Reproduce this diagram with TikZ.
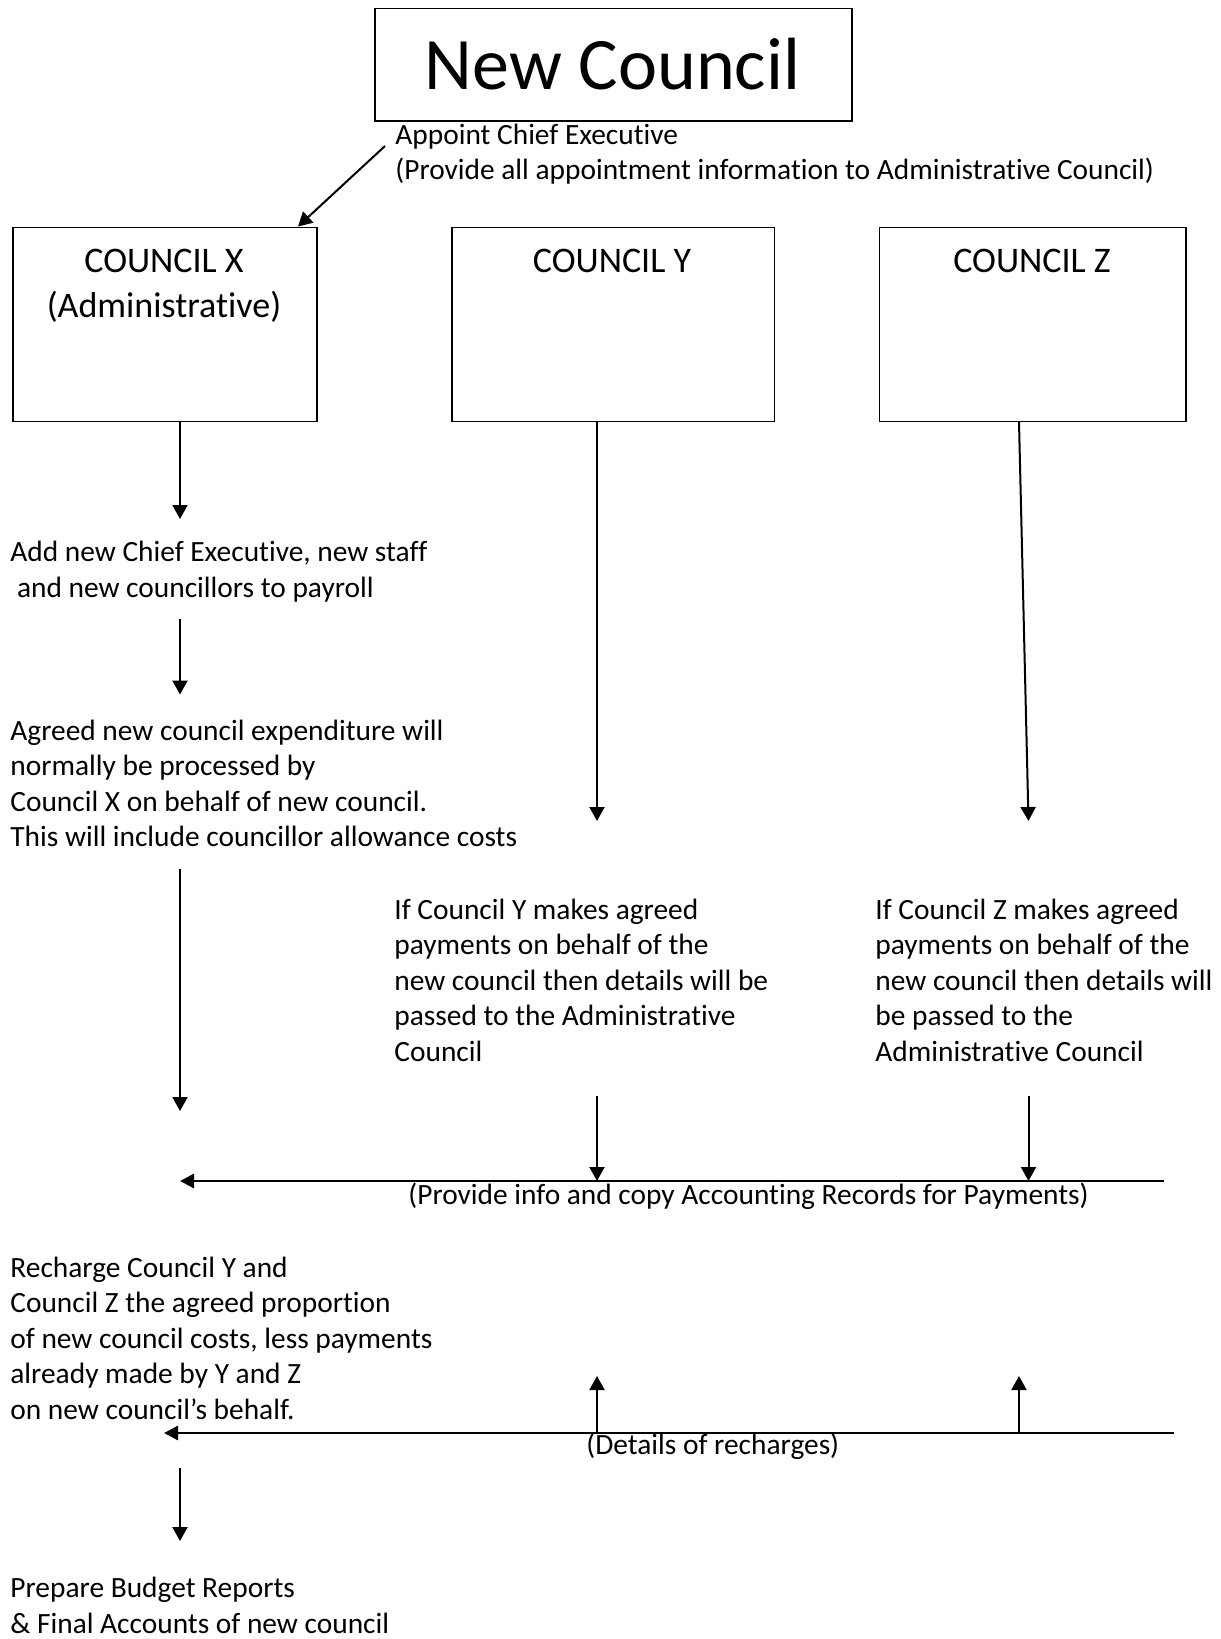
\documentclass[tikz,border=0pt]{standalone}
\usepackage{fontspec}
\setmainfont{Carlito}[Ligatures=NoCommon]
\usetikzlibrary{arrows.meta,calc}
\newcommand\textlines[1]{\begin{tabular}[t]{@{}l@{}}#1\end{tabular}}
\newcommand\centredlines[1]{\begin{tabular}[t]{@{}c@{}}#1\end{tabular}}

\begin{document}
\begin{tikzpicture}[x=0.5pt,y=-0.5pt,
  box/.style={draw, line width=0.8pt, inner sep=0pt, anchor=north west},
  body/.style={anchor=base west, inner sep=0pt, font=\fontsize{14.7}{17.8}\selectfont},
  boxlabel/.style={anchor=base, inner sep=0pt, font=\fontsize{18}{22.5}\selectfont},
  flow/.style={line width=1pt, -{Triangle[length=7pt,width=7.5pt]}},
  heavy/.style={line width=1.45pt, -{Triangle[length=7pt,width=7pt]}}]

  % page
  \fill[white] (0,0) rectangle (1221,1639);
  \useasboundingbox (0,0) rectangle (1221,1639);

  % top box
  \node[box, minimum width=238.5pt, minimum height=56.25pt] (new) at (374,7.5) {};
  \node[anchor=base, inner sep=0pt, font=\fontsize{37}{44}\selectfont] (newt) at (612.5,89.3) {New Council};

  \node[body] (appoint) at (395,144) {\textlines{Appoint Chief Executive\\(Provide all appointment information to Administrative Council)}};

  % the three councils
  \node[box, minimum width=152pt, minimum height=97pt] (cx) at (12,226.5) {};
  \node[box, minimum width=161.25pt, minimum height=97pt] (cy) at (451,226.5) {};
  \node[box, minimum width=153.25pt, minimum height=97pt] (cz) at (878.5,226.5) {};
  \node[boxlabel] (cxt) at (164,272.7) {\centredlines{COUNCIL X\\(Administrative)}};
  \node[boxlabel] (cyt) at (612,272.7) {COUNCIL Y};
  \node[boxlabel] (czt) at (1032,272.7) {COUNCIL Z};

  % column of Council X
  \node[body] (payroll) at (10,561.5) {\textlines{Add new Chief Executive, new staff\\\ and new councillors to payroll}};
  \node[body] (expend) at (10,740) {\textlines{Agreed new council expenditure will\\normally be processed by\\Council X on behalf of new council.\\This will include councillor allowance costs}};
  \node[body] (recharge) at (10,1277) {\textlines{Recharge Council Y and\\Council Z the agreed proportion\\of new council costs, less payments\\already made by Y and Z\\on new council’s behalf.}};
  \node[body] (budget) at (10,1597.7) {\textlines{Prepare Budget Reports\\\& Final Accounts of new council}};

  % columns of Councils Y and Z
  \node[body] (ypay) at (394,919) {\textlines{If Council Y makes agreed\\payments on behalf of the\\new council then details will be\\passed to the Administrative\\Council}};
  \node[body] (zpay) at (875,919) {\textlines{If Council Z makes agreed\\payments on behalf of the\\new council then details will\\be passed to the\\Administrative Council}};

  \node[body] (infolabel) at (408,1204) {(Provide info and copy Accounting Records for Payments)};
  \node[body] (rechlabel) at (586,1454) {(Details of recharges)};

  % connector end points
  \coordinate (colX) at (180,0);
  \coordinate (colY) at (597,0);
  \coordinate (colZ) at (1019,0);
  \coordinate (apStart) at (385,146);
  \coordinate (apEnd) at (298,226.5);
  \coordinate (x1) at (180,519);
  \coordinate (x2a) at (180,619);
  \coordinate (x2b) at (180,694.5);
  \coordinate (x3a) at (180,869);
  \coordinate (x3b) at (180,1111);
  \coordinate (x4a) at (180,1468);
  \coordinate (x4b) at (180,1541);
  \coordinate (y1) at (597,821);
  \coordinate (z1) at (1028.5,821);
  \coordinate (y2a) at (597,1095.5);
  \coordinate (z2a) at (1028.5,1095.5);
  \coordinate (infoR) at (1164,1181);
  \coordinate (infoL) at (180,1181);
  \coordinate (rechR) at (1174,1433);
  \coordinate (rechL) at (164,1433);
  \coordinate (yUp) at (597,1376);
  \coordinate (zUp) at (1019,1376);

  % connectors
  \draw[flow] (apStart) -- (apEnd);
  \draw[flow] (cx.south -| colX) -- (x1);
  \draw[flow] (x2a) -- (x2b);
  \draw[flow] (x3a) -- (x3b);
  \draw[flow] (cy.south -| colY) -- (y1);
  \draw[flow] (cz.south -| colZ) -- (z1);
  \draw[flow] (y2a) -- (y2a |- infoR);
  \draw[flow] (z2a) -- (z2a |- infoR);
  \draw[heavy] (infoR) -- (infoL);
  \draw[heavy] (rechR) -- (rechL);
  \draw[flow] (yUp |- rechR) -- (yUp);
  \draw[flow] (zUp |- rechR) -- (zUp);
  \draw[flow] (x4a) -- (x4b);
\end{tikzpicture}
\end{document}
